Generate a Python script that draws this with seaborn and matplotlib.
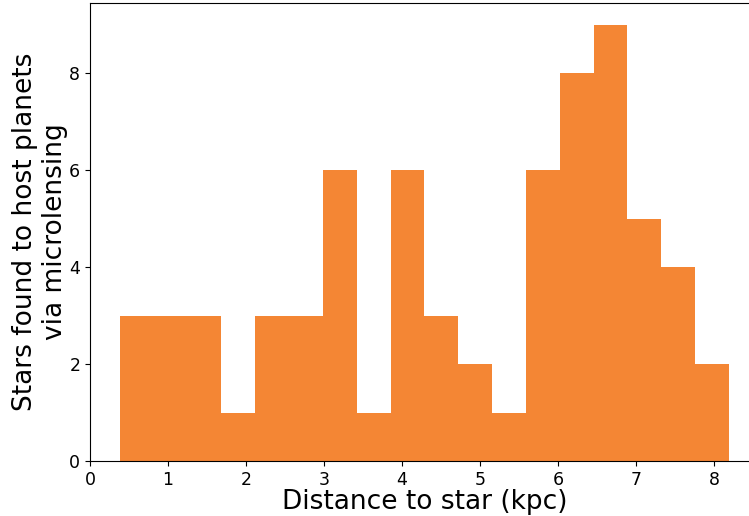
import numpy as np
import pandas as pd
import matplotlib
matplotlib.use("Agg")
import matplotlib.pyplot as plt
import seaborn as sns

# Stars hosting microlensing planets, binned by distance (kpc)
bin_lo = 0.385
bin_hi = 8.19
n_bins = 18
counts = [3, 3, 3, 1, 3, 3, 6, 1, 6, 3, 2, 1, 6, 8, 9, 5, 4, 2]
x_ticks = [0, 1, 2, 3, 4, 5, 6, 7, 8]
y_ticks = [0, 2, 4, 6, 8]

edges = np.linspace(bin_lo, bin_hi, n_bins + 1)
centers = (edges[:-1] + edges[1:]) / 2
df = pd.DataFrame({"distance": centers, "stars": counts})

W, H = 749, 516
fig = plt.figure(figsize=(W / 100, H / 100), dpi=100)
ax = fig.add_axes([90 / W, 55 / H, 669 / W, 458 / H])

sns.histplot(data=df, x="distance", weights="stars",
             bins=n_bins, binrange=(bin_lo, bin_hi),
             color="#F48634", alpha=1, linewidth=0, ax=ax)

ax.set_xlim(0, 669 / 78)
ax.set_ylim(0, 9.45)
ax.set_xticks(x_ticks)
ax.set_yticks(y_ticks)
ax.tick_params(labelsize=12.5)
ax.set_xlabel("Distance to star (kpc)", fontsize=19, labelpad=0.5)
ax.set_ylabel("Stars found to host planets\nvia microlensing", fontsize=19,
              labelpad=1)

fig.savefig("out.png", dpi=100)
